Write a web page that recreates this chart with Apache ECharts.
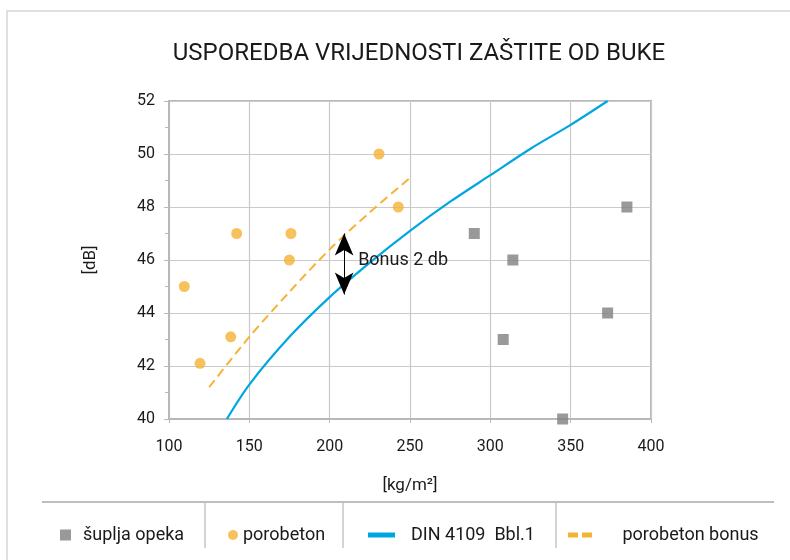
<!DOCTYPE html>
<html>
<head>
<meta charset="utf-8">
<script src="https://cdn.jsdelivr.net/npm/echarts@6/dist/echarts.min.js"></script>
<style>
  html, body { margin: 0; padding: 0; background: #fff; }
  #chart { width: 790px; height: 560px; }
</style>
</head>
<body>
<div id="chart"></div>
<script>
// values
const opekaX = [290, 308, 314, 345, 373, 385]
const opekaY = [47, 43, 46, 40, 44, 48]
const porobetonX = [109.5, 119.3, 138.4, 142.1, 174.9, 175.9, 230.7, 242.7]
const porobetonY = [45, 42.1, 43.1, 47, 46, 47, 50, 48]
const dinX = [136, 150, 175, 200, 225, 250, 275, 300, 325, 350, 373]
const dinY = [40, 41.3, 43.1, 44.6, 45.9, 47.1, 48.2, 49.2, 50.2, 51.1, 52]
const bonusX = [125, 150, 175, 200, 225, 250]
const bonusY = [41.2, 43.1, 44.8, 46.4, 47.8, 49.1]
// the "Bonus 2 db" arrow: x, bottom, top, label y
const arrowX = [209]
const arrowY = [44.7, 47.0, 46]
const seriesNames = ['šuplja opeka', 'porobeton', 'DIN 4109  Bbl.1', 'porobeton bonus']

const zip = (xs, ys) => xs.map((x, i) => [x, ys[i]])

const FONT = 'Roboto'
const TXT = '#1a1a1a'
const AXIS = '#b8b8b8'

const chart = echarts.init(document.getElementById('chart'))

function legendAt(left, name, icon, w, h, pad) {
  return {
    left: left,
    top: 521,
    icon: icon,
    itemWidth: w,
    itemHeight: h,
    data: [name],
    selectedMode: false,
    textStyle: {
      fontFamily: FONT,
      fontSize: 18,
      color: TXT,
      padding: [0, 0, 0, pad],
    },
  }
}

chart.setOption({
  animation: false,
  textStyle: { fontFamily: FONT },
  title: {
    text: 'USPOREDBA VRIJEDNOSTI ZAŠTITE OD BUKE',
    left: 414,
    top: 37,
    textAlign: 'center',
    textStyle: {
      fontFamily: FONT,
      fontSize: 24,
      fontWeight: 'normal',
      color: TXT,
    },
  },
  legend: [
    legendAt(55, seriesNames[0], 'rect', 11, 11, 7),
    legendAt(223, seriesNames[1], 'circle', 10, 10, 0),
    legendAt(363, seriesNames[2], 'rect', 27, 5, 11),
    legendAt(563, seriesNames[3], 'path://M0,0H10V5H0Z M14,0H24V5H14Z', 27, 5, 24),
  ],
  grid: {
    left: 169,
    top: 101,
    width: 482,
    height: 318,
    show: true,
    borderColor: AXIS,
    borderWidth: 2,
    backgroundColor: 'transparent',
  },
  xAxis: {
    type: 'value',
    min: 100,
    max: 400,
    interval: 50,
    name: '[kg/m²]',
    nameLocation: 'middle',
    nameGap: 58,
    nameTextStyle: { fontFamily: FONT, fontSize: 17, color: TXT },
    axisLine: { lineStyle: { color: AXIS, width: 2 } },
    axisTick: { show: true, length: 4, lineStyle: { color: AXIS } },
    axisLabel: { margin: 20, fontSize: 16, color: TXT },
    splitLine: { lineStyle: { color: '#cacaca', width: 1.2 } },
  },
  yAxis: {
    type: 'value',
    min: 40,
    max: 52,
    interval: 2,
    name: '[dB]',
    nameLocation: 'middle',
    nameRotate: 90,
    nameGap: 70,
    nameTextStyle: { fontFamily: FONT, fontSize: 17, color: TXT },
    axisLine: { show: true, lineStyle: { color: AXIS, width: 2 } },
    axisTick: { show: true, length: 5, lineStyle: { color: AXIS } },
    minorTick: { show: true, splitNumber: 2, length: 4, lineStyle: { color: AXIS } },
    axisLabel: { margin: 14, fontSize: 16, color: TXT },
    splitLine: { lineStyle: { color: '#cacaca', width: 1.2 } },
  },
  series: [
    {
      name: seriesNames[0],
      type: 'scatter',
      symbol: 'rect',
      symbolSize: 11,
      itemStyle: { color: '#808080' },
      data: zip(opekaX, opekaY),
      z: 3,
    },
    {
      name: seriesNames[1],
      type: 'scatter',
      symbol: 'circle',
      symbolSize: 11,
      itemStyle: { color: '#f5b335' },
      data: zip(porobetonX, porobetonY),
      z: 3,
    },
    {
      name: seriesNames[2],
      type: 'line',
      smooth: 0.3,
      showSymbol: false,
      symbol: 'none',
      itemStyle: { color: '#00a6e2' },
      lineStyle: { color: '#00a6e2', width: 2.2 },
      data: zip(dinX, dinY),
    },
    {
      name: seriesNames[3],
      type: 'line',
      smooth: 0.3,
      showSymbol: false,
      symbol: 'none',
      itemStyle: { color: '#f5b335' },
      lineStyle: { color: '#f5b335', width: 2, type: [9, 5] },
      data: zip(bonusX, bonusY),
      markLine: {
        silent: true,
        symbol: ['arrow', 'arrow'],
        symbolSize: [14, 22],
        lineStyle: { color: '#000', type: 'solid', width: 1 },
        label: { show: false },
        data: [[{ coord: [arrowX[0], arrowY[0]] }, { coord: [arrowX[0], arrowY[1]] }]],
      },
      markPoint: {
        silent: true,
        symbolSize: 0,
        label: {
          show: true,
          position: 'right',
          distance: 14,
          formatter: 'Bonus 2 db',
          fontFamily: FONT,
          fontSize: 18,
          color: TXT,
        },
        data: [{ coord: [arrowX[0], arrowY[2]] }],
      },
    },
  ],
  graphic: [
    // outer frame (only top and left are visible in the picture)
    {
      type: 'rect',
      silent: true,
      shape: { x: 7, y: 11, width: 820, height: 600 },
      style: { fill: null, stroke: '#d6d6d6', lineWidth: 1.5 },
    },
    // legend table rules
    {
      type: 'line',
      silent: true,
      shape: { x1: 42, y1: 502, x2: 774, y2: 502 },
      style: { stroke: '#a8a8a8', lineWidth: 1.5 },
    },
    {
      type: 'line',
      silent: true,
      shape: { x1: 205, y1: 503, x2: 205, y2: 548 },
      style: { stroke: '#a8a8a8', lineWidth: 1 },
    },
    {
      type: 'line',
      silent: true,
      shape: { x1: 343, y1: 503, x2: 343, y2: 548 },
      style: { stroke: '#a8a8a8', lineWidth: 1 },
    },
    {
      type: 'line',
      silent: true,
      shape: { x1: 556, y1: 503, x2: 556, y2: 548 },
      style: { stroke: '#a8a8a8', lineWidth: 1 },
    },
  ],
})
</script>
</body>
</html>
